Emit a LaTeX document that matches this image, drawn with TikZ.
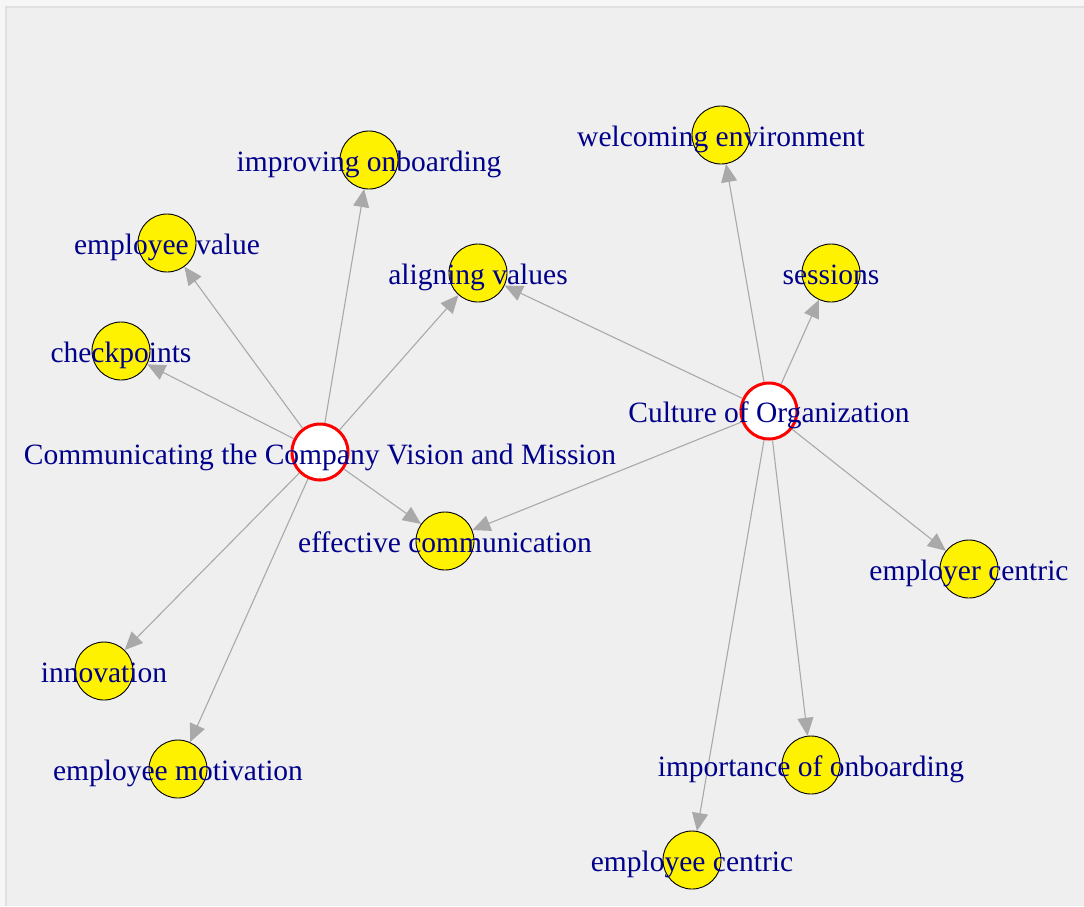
\documentclass[tikz,border=0pt]{standalone}
\usepackage{fontspec}
\setmainfont{Liberation Serif}
\usetikzlibrary{arrows.meta}
\definecolor{outerbg}{HTML}{F6F6F6}
\definecolor{panelbg}{HTML}{EFEFEF}
\definecolor{panelframe}{HTML}{E0E0E0}
\definecolor{edgegray}{HTML}{A9A9A9}
\definecolor{labelblue}{HTML}{00008B}
\begin{document}
\begin{tikzpicture}[x=1pt,y=-1pt,
  hub/.style={circle, draw=red, line width=3pt, fill=white, minimum size=56pt, inner sep=0pt},
  leaf/.style={circle, draw=black, line width=0.9pt, fill=yellow, minimum size=58pt, inner sep=0pt},
  lbl/.style={anchor=base, text=labelblue, font=\fontsize{29.5}{30}\selectfont, inner sep=0pt},
  link/.style={draw=edgegray, line width=1.1pt, -{Triangle[length=18pt,width=16pt]}}]
\useasboundingbox (0,0) rectangle (1084,906);
% panel background
\fill[outerbg] (0,0) rectangle (1084,906);
\fill[panelbg] (5,6) rectangle (1084,906);
\draw[panelframe, line width=1.5pt] (5.75,906) -- (5.75,6.75) -- (1084,6.75);

% vertices
\node[hub]  (comm)  at (320,452) {};
\node[hub]  (cult)  at (769,411) {};
\node[leaf] (impon) at (369,160) {};
\node[leaf] (empv)  at (167,243) {};
\node[leaf] (align) at (478,273) {};
\node[leaf] (check) at (121,351) {};
\node[leaf] (welc)  at (721,135) {};
\node[leaf] (sess)  at (831,273) {};
\node[leaf] (effc)  at (445,541) {};
\node[leaf] (emprc) at (969,569) {};
\node[leaf] (innov) at (104,671) {};
\node[leaf] (empm)  at (178,769) {};
\node[leaf] (impo)  at (811,765) {};
\node[leaf] (empc)  at (692,860) {};

% edges
\draw[link] (comm) -- (impon);
\draw[link] (comm) -- (empv);
\draw[link] (comm) -- (align);
\draw[link] (comm) -- (check);
\draw[link] (comm) -- (effc);
\draw[link] (comm) -- (innov);
\draw[link] (comm) -- (empm);
\draw[link] (cult) -- (welc);
\draw[link] (cult) -- (sess);
\draw[link] (cult) -- (align);
\draw[link] (cult) -- (effc);
\draw[link] (cult) -- (emprc);
\draw[link] (cult) -- (impo);
\draw[link] (cult) -- (empc);

% labels
\node[lbl] (comm-t)  at ([yshift=-12pt]comm.center)  {Communicating the Company Vision and Mission};
\node[lbl] (cult-t)  at ([yshift=-11.5pt]cult.center)  {Culture of Organization};
\node[lbl] (impon-t) at ([yshift=-11pt]impon.center) {improving onboarding};
\node[lbl] (empv-t)  at ([yshift=-11pt]empv.center)  {employee value};
\node[lbl] (align-t) at ([yshift=-11pt]align.center) {aligning values};
\node[lbl] (check-t) at ([yshift=-11pt]check.center) {checkpoints};
\node[lbl] (welc-t)  at ([yshift=-11pt]welc.center)  {welcoming environment};
\node[lbl] (sess-t)  at ([yshift=-11pt]sess.center)  {sessions};
\node[lbl] (effc-t)  at ([yshift=-11pt]effc.center)  {effective communication};
\node[lbl] (emprc-t) at ([yshift=-11pt]emprc.center) {employer centric};
\node[lbl] (innov-t) at ([yshift=-11pt]innov.center) {innovation};
\node[lbl] (empm-t)  at ([yshift=-11pt]empm.center)  {employee motivation};
\node[lbl] (impo-t)  at ([yshift=-11pt]impo.center)  {importance of onboarding};
\node[lbl] (empc-t)  at ([yshift=-11pt]empc.center)  {employee centric};
\end{tikzpicture}
\end{document}
